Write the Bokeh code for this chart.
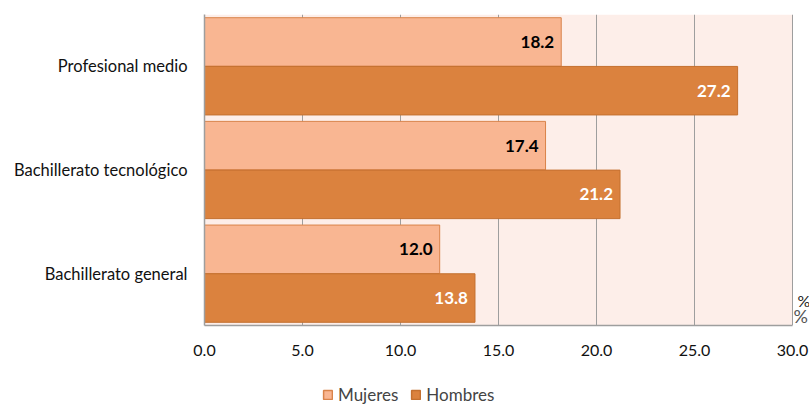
from bokeh.plotting import figure
from bokeh.layouts import column
from bokeh.models import ColumnDataSource, FixedTicker, Legend, LegendItem, Label, LabelSet
from bokeh.embed import file_html
from bokeh.resources import INLINE
from bokeh.core.properties import value

categories = ["Bachillerato general", "Bachillerato tecnológico", "Profesional medio"]
series_names = ["Mujeres", "Hombres"]
mujeres = [12.0, 17.4, 18.2]
hombres = [13.8, 21.2, 27.2]
x_ticks = [0, 5, 10, 15, 20, 25, 30]
x_tick_labels = ["0.0", "5.0", "10.0", "15.0", "20.0", "25.0", "30.0"]

FONT = "Lato"
LIGHT = "#F9B692"
DARK = "#DB823E"
LIGHT_LINE = "#D9834A"
DARK_LINE = "#C4702F"
XMAX = 30.0

centers = [i + 0.5 for i in range(len(categories))]
bar_h = 0.468
off = 0.235

src_m = ColumnDataSource(dict(y=[c + off for c in centers], v=mujeres,
                              t=[f"{v:.1f}" for v in mujeres]))
src_h = ColumnDataSource(dict(y=[c - off for c in centers], v=hombres,
                              t=[f"{v:.1f}" for v in hombres]))

# frame spans to the right edge so that the "%" marks stay visible
x_end = XMAX * (809 - 204) / 588.0
p = figure(width=809, height=365, x_range=(0, x_end), y_range=(0, 3),
           output_backend="svg", toolbar_location=None,
           min_border_left=204, min_border_right=0, min_border_top=14, min_border_bottom=40)
p.background_fill_color = "white"
p.border_fill_color = "white"
p.outline_line_color = None

p.quad(left=0, right=XMAX, bottom=0, top=len(categories), fill_color="#FDEEE9",
       line_color=None, level="image")

p.hbar(y="y", right="v", left=0, height=bar_h, source=src_m,
       fill_color=LIGHT, line_color=LIGHT_LINE, line_width=1)
p.hbar(y="y", right="v", left=0, height=bar_h, source=src_h,
       fill_color=DARK, line_color=DARK_LINE, line_width=1)

p.add_layout(LabelSet(x="v", y="y", text="t", source=src_m, x_offset=-7,
                      text_align="right", text_baseline="middle",
                      text_font=value(FONT), text_font_style="bold",
                      text_font_size="17px", text_color="black"))
p.add_layout(LabelSet(x="v", y="y", text="t", source=src_h, x_offset=-7,
                      text_align="right", text_baseline="middle",
                      text_font=value(FONT), text_font_style="bold",
                      text_font_size="17px", text_color="white"))

p.ygrid.grid_line_color = None
p.xgrid.grid_line_color = "#9E9E9E"
p.xgrid.ticker = FixedTicker(ticks=x_ticks)

p.xaxis.ticker = FixedTicker(ticks=x_ticks)
p.xaxis.bounds = (0, XMAX)
p.xaxis.major_label_overrides = {t: l for t, l in zip(x_ticks, x_tick_labels)}
p.yaxis.ticker = FixedTicker(ticks=centers)
p.yaxis.major_label_overrides = {c: n for c, n in zip(centers, categories)}

for ax in (p.xaxis, p.yaxis):
    ax.axis_line_color = "#9E9E9E"
    ax.axis_line_width = 1.5
    ax.major_tick_line_color = None
    ax.minor_tick_line_color = None
    ax.major_tick_out = 0
    ax.major_tick_in = 0
    ax.major_label_text_font = FONT
    ax.major_label_text_font_size = "16px"
    ax.major_label_text_color = "#111111"
p.yaxis.major_label_text_font_size = "16.5px"
p.xaxis.major_label_standoff = 19
p.yaxis.major_label_standoff = 17

p.add_layout(Label(x=XMAX, y=0, text="%", x_offset=5, y_offset=16, text_font=FONT,
                   text_font_size="16px", text_color="#222222", text_baseline="bottom"))
p.add_layout(Label(x=XMAX, y=0, text="%", x_offset=1, y_offset=-1, text_font=FONT,
                   text_font_size="18px", text_color="#555555", text_baseline="bottom"))

# legend row (its frame is aligned with the main frame by the column layout)
p2 = figure(width=809, height=40, x_range=(0, 1), y_range=(0, 1),
            output_backend="svg", toolbar_location=None, min_border=0)
p2.axis.visible = False
p2.grid.grid_line_color = None
p2.outline_line_color = None
p2.background_fill_color = "white"
p2.border_fill_color = "white"
lm = p2.hbar(y=[0.5], left=[50], right=[50], height=0, fill_color=LIGHT,
             line_color=LIGHT_LINE, line_width=1.5)
lh = p2.hbar(y=[0.5], left=[50], right=[50], height=0, fill_color=DARK,
             line_color=DARK_LINE, line_width=1.5)
legend = Legend(items=[LegendItem(label=series_names[0], renderers=[lm]),
                       LegendItem(label=series_names[1], renderers=[lh])],
                location=(118, 0), orientation="horizontal",
                label_text_font=FONT, label_text_font_size="17px",
                glyph_width=11, glyph_height=11, spacing=12, label_standoff=5,
                padding=0, margin=0, border_line_color=None, background_fill_alpha=0)
p2.add_layout(legend, "center")

layout = column(p, p2, spacing=0)
open("out.html", "w").write(file_html(layout, INLINE))
